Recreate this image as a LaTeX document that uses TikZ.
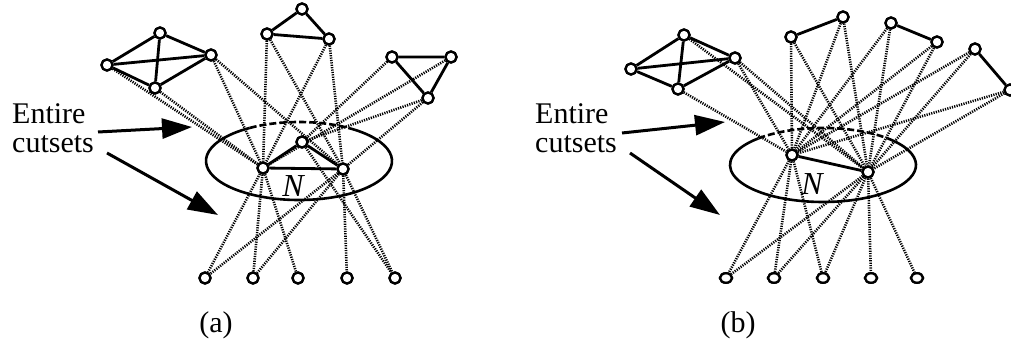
\documentclass[tikz,border=0pt]{standalone}
\usepackage{fontspec}
\setmainfont{Liberation Serif}
\usetikzlibrary{arrows.meta,shapes.geometric}
\begin{document}
\begin{tikzpicture}[x=1pt,y=-1pt,
  vtx/.style={circle,draw=black,line width=2.3pt,fill=white,inner sep=0pt,minimum size=11pt},
  bvtx/.style={ellipse,draw=black,line width=2.3pt,fill=white,inner sep=0pt,minimum width=12pt,minimum height=9.5pt},
  sol/.style={line width=2.8pt,draw=black},
  cut/.style={draw=black,line width=2.6pt,dash pattern=on 1.2pt off 1.2pt},
  ring/.style={line width=2.6pt,draw=black},
  ringback/.style={line width=2.6pt,draw=black,dash pattern=on 7pt off 3pt},
  ptr/.style={line width=3pt,-{Triangle[length=30pt,width=20pt]}},
  lab/.style={font=\fontsize{30}{30}\selectfont,inner sep=0pt,align=left},
  nlab/.style={font=\fontsize{32}{32}\selectfont\itshape,inner sep=0pt}
]
\useasboundingbox (0,0) rectangle (1011,352);

% ================= (a) =================
\coordinate (Ea0) at (299,161);
\draw[ring] (Ea0) ++(302:93 and 39) arc[start angle=302, end angle=598, x radius=93, y radius=39];
\draw[ringback] (Ea0) ++(238:93 and 39) arc[start angle=238, end angle=302, x radius=93, y radius=39];

\node[vtx] (A1) at (107,65) {};
\node[vtx] (A2) at (160,33) {};
\node[vtx] (A3) at (211,55) {};
\node[vtx] (A4) at (155,88) {};
\node[vtx] (T1) at (267,34) {};
\node[vtx] (T2) at (302,9) {};
\node[vtx] (T3) at (329,39) {};
\node[vtx] (R1) at (392,57) {};
\node[vtx] (R2) at (451,57) {};
\node[vtx] (R3) at (428,98) {};
\node[vtx] (NL) at (263,168) {};
\node[vtx] (NT) at (302,142) {};
\node[vtx] (NR) at (343,169) {};
\node[vtx] (B1) at (205,278) {};
\node[vtx] (B2) at (253,278) {};
\node[vtx] (B3) at (298,278) {};
\node[vtx] (B4) at (347,278) {};
\node[vtx] (B5) at (395,278) {};

\draw[cut] (A1) -- (NL);
\draw[cut] (A4) -- (NL);
\draw[cut] (A3) -- (NL);
\draw[cut] (A3) -- (NR);
\draw[cut] (T1) -- (NL);
\draw[cut] (T1) -- (NR);
\draw[cut] (T3) -- (NL);
\draw[cut] (T3) -- (NR);
\draw[cut] (R1) -- (NT);
\draw[cut] (R2) -- (NL);
\draw[cut] (R3) -- (NT);
\draw[cut] (R3) -- (NR);
\draw[cut] (NL) -- (B1);
\draw[cut] (NL) -- (B2);
\draw[cut] (NL) -- (B3);
\draw[cut] (NR) -- (B1);
\draw[cut] (NR) -- (B2);
\draw[cut] (NR) -- (B4);
\draw[cut] (NR) -- (B5);
\draw[cut] (NT) -- (B5);

\draw[sol] (A1) -- (A2) -- (A3) -- (A4) -- (A1);
\draw[sol] (A1) -- (A3);
\draw[sol] (A2) -- (A4);
\draw[sol] (T1) -- (T2) -- (T3) -- (T1);
\draw[sol] (R1) -- (R2) -- (R3) -- (R1);
\draw[sol] (NL) -- (NT) -- (NR) -- (NL);

\foreach \n in {A1,A2,A3,A4,T1,T2,T3,R1,R2,R3,NL,NT,NR,B1,B2,B3,B4,B5}
  \node[vtx] at (\n) {};

\node[nlab] (Na) at (293,186) {N};

\node[lab,anchor=base west] (Ea) at (12,124) {Entire};
\node[lab,anchor=base west] (Ca) at (12,153) {cutsets};
\coordinate (ea1) at (98,132);
\coordinate (ea2) at (192,127);
\coordinate (eb1) at (107,153);
\coordinate (eb2) at (218,215);
\draw[ptr] (ea1) -- (ea2);
\draw[ptr] (eb1) -- (eb2);
\node[lab] (la) at (216,325) {(a)};

% ================= (b) =================
\coordinate (Eb0) at (823,165);
\draw[ring] (Eb0) ++(314:93 and 37) arc[start angle=314, end angle=586, x radius=93, y radius=37];
\draw[ringback] (Eb0) ++(226:93 and 37) arc[start angle=226, end angle=314, x radius=93, y radius=37];

\node[vtx] (C1) at (631,69) {};
\node[vtx] (C2) at (684,35) {};
\node[vtx] (C3) at (735,58) {};
\node[vtx] (C4) at (678,89) {};
\node[vtx] (P1) at (791,37) {};
\node[vtx] (P2) at (843,17) {};
\node[vtx] (P3) at (891,23) {};
\node[vtx] (P4) at (937,42) {};
\node[vtx] (P5) at (975,49) {};
\node[vtx] (P6) at (1010,90) {};
\node[vtx] (M1) at (792,155) {};
\node[vtx] (M2) at (868,172) {};
\node[bvtx] (D1) at (726,278) {};
\node[bvtx] (D2) at (774,278) {};
\node[bvtx] (D3) at (823,278) {};
\node[bvtx] (D4) at (871,278) {};
\node[bvtx] (D5) at (917,278) {};

\draw[cut] (C2) -- (M2);
\draw[cut] (C3) -- (M1);
\draw[cut] (C3) -- (M2);
\draw[cut] (C4) -- (M1);
\foreach \p in {P1,P2,P3,P4,P5,P6} {
  \draw[cut] (\p) -- (M1);
  \draw[cut] (\p) -- (M2);
}
\draw[cut] (M1) -- (D1);
\draw[cut] (M1) -- (D2);
\draw[cut] (M1) -- (D3);
\draw[cut] (M2) -- (D1);
\draw[cut] (M2) -- (D2);
\draw[cut] (M2) -- (D3);
\draw[cut] (M2) -- (D4);
\draw[cut] (M2) -- (D5);

\draw[sol] (C1) -- (C2) -- (C3) -- (C4) -- (C1);
\draw[sol] (C1) -- (C3);
\draw[sol] (C2) -- (C4);
\draw[sol] (P1) -- (P2);
\draw[sol] (P3) -- (P4);
\draw[sol] (P5) -- (P6);
\draw[sol] (M1) -- (M2);

\foreach \n in {C1,C2,C3,C4,P1,P2,P3,P4,P5,P6,M1,M2}
  \node[vtx] at (\n) {};
\foreach \n in {D1,D2,D3,D4,D5}
  \node[bvtx] at (\n) {};

\node[nlab] (Nb) at (812,184) {N};

\node[lab,anchor=base west] (Eb) at (535,124) {Entire};
\node[lab,anchor=base west] (Cb) at (535,153) {cutsets};
\coordinate (fa1) at (622,133);
\coordinate (fa2) at (725,122);
\coordinate (fb1) at (630,153);
\coordinate (fb2) at (720,215);
\draw[ptr] (fa1) -- (fa2);
\draw[ptr] (fb1) -- (fb2);
\node[lab] (lb) at (738,325) {(b)};
\end{tikzpicture}
\end{document}
